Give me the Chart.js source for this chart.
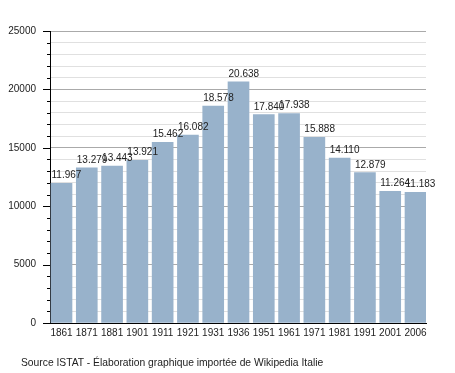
<!DOCTYPE html>
<html>
<head>
<meta charset="utf-8">
<script src="https://cdn.jsdelivr.net/npm/chart.js@4/dist/chart.umd.min.js"></script>
<style>
  html, body { margin: 0; padding: 0; background: #fff; }
  #wrap { position: relative; width: 455px; height: 373px; }
  #c { position: absolute; left: 0; top: 0; }
  #src { position: absolute; left: 21px; top: 357px; font: 10.3px "Liberation Sans", Arial, sans-serif; line-height: 12px; color: #222; white-space: nowrap; }
</style>
</head>
<body>
<div id="wrap">
  <canvas id="c" width="455" height="373"></canvas>
  <div id="src">Source ISTAT - Élaboration graphique importée de Wikipedia Italie</div>
</div>
<script>
const years = ["1861","1871","1881","1901","1911","1921","1931","1936","1951","1961","1971","1981","1991","2001","2006"];
const population = [11967,13279,13443,13921,15462,16082,18578,20638,17840,17938,15888,14110,12879,11264,11183];
const yTickValues = [0,5000,10000,15000,20000,25000];

const FONT = '"Liberation Sans", Arial, sans-serif';
function fmt(v){ return String(v).replace(/\B(?=(\d{3})+(?!\d))/g, '.'); }

const points = population.map((v,i)=>({x:i, y:v}));

const tickMarks = {
  id: 'tickMarks',
  afterDraw(chart){
    const y = chart.scales.y, ctx = chart.ctx, left = chart.chartArea.left;
    ctx.save();
    ctx.strokeStyle = '#000';
    ctx.lineWidth = 1;
    for (let v = 0; v <= 25000; v += 1000) {
      const py = Math.round(y.getPixelForValue(v)) + 0.5;
      const len = yTickValues.includes(v) ? 7 : 3;
      ctx.beginPath();
      ctx.moveTo(left - len, py);
      ctx.lineTo(left, py);
      ctx.stroke();
    }
    ctx.restore();
  }
};

const valueLabels = {
  id: 'valueLabels',
  afterDatasetsDraw(chart){
    const ctx = chart.ctx;
    const meta = chart.getDatasetMeta(0);
    ctx.save();
    ctx.font = '10px ' + FONT;
    ctx.fillStyle = '#222';
    ctx.textAlign = 'left';
    ctx.textBaseline = 'alphabetic';
    meta.data.forEach((bar, i) => {
      const left = bar.x - bar.width / 2;
      ctx.fillText(fmt(population[i]), left + 0.5, bar.y - 5);
    });
    ctx.restore();
  }
};

new Chart(document.getElementById('c'), {
  type: 'bar',
  data: {
    datasets: [{
      data: points,
      backgroundColor: 'rgb(152,178,203)',
      borderWidth: 0,
      barThickness: 21
    }]
  },
  options: {
    responsive: false,
    animation: false,
    events: [],
    layout: { padding: { left: 0, top: 31, right: 29, bottom: 0 } },
    plugins: { legend: { display: false }, tooltip: { enabled: false } },
    scales: {
      x: {
        type: 'linear',
        min: -0.4548,
        max: 14.415,
        offset: false,
        grid: { display: false, drawTicks: false },
        border: { display: true, color: '#000', width: 1 },
        ticks: {
          stepSize: 1,
          includeBounds: false,
          autoSkip: false,
          maxRotation: 0,
          padding: 4,
          color: '#222',
          font: { family: FONT, size: 10 },
          callback: (v) => (Number.isInteger(v) && years[v] !== undefined) ? years[v] : ''
        },
        afterFit: (s) => { s.height = 50; }
      },
      y: {
        min: 0,
        max: 25000,
        grid: {
          drawTicks: false,
          color: (c) => (c.tick && yTickValues.includes(c.tick.value)) ? '#aaaaaa' : '#e0e0e0'
        },
        border: { display: true, color: '#000', width: 1 },
        ticks: {
          stepSize: 1000,
          autoSkip: false,
          padding: 14,
          color: '#222',
          font: { family: FONT, size: 10 },
          callback: (v) => yTickValues.includes(v) ? String(v) : ''
        },
        afterFit: (s) => { s.width = 50; }
      }
    }
  },
  plugins: [tickMarks, valueLabels]
});
</script>
</body>
</html>
